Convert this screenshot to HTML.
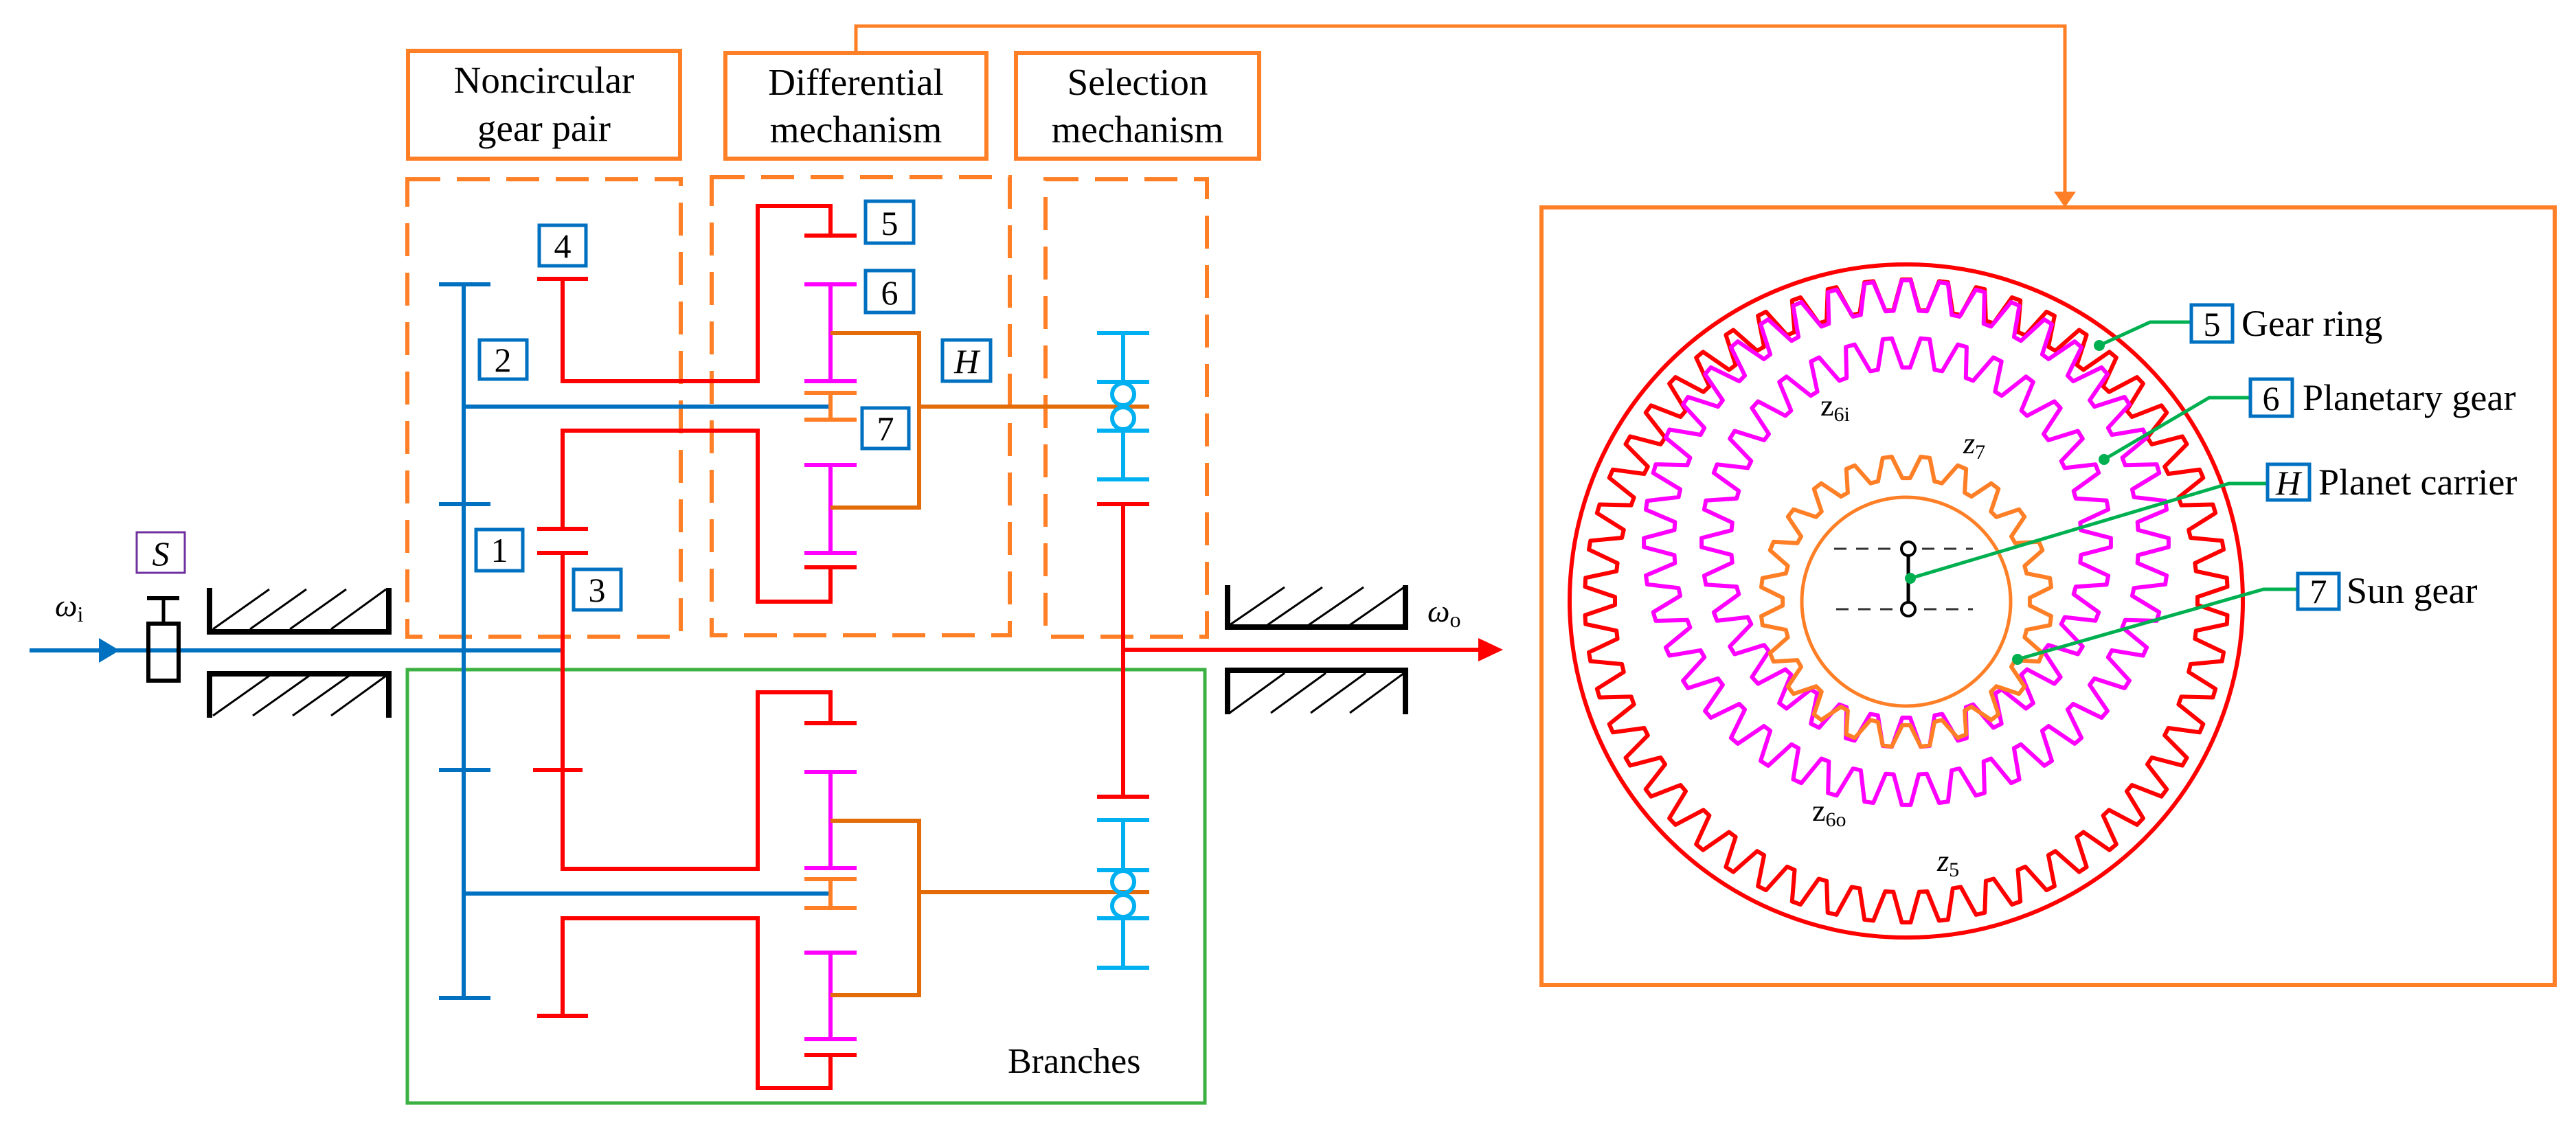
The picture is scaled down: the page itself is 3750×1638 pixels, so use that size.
<!DOCTYPE html>
<html><head><meta charset="utf-8">
<style>
html,body{margin:0;padding:0;background:#fff;}
svg{display:block;}
text{font-family:"Liberation Serif",serif;fill:#000;}
</style></head>
<body>
<svg id="s" width="3750" height="1638" viewBox="0 0 3750 1638" xmlns="http://www.w3.org/2000/svg">
<rect width="3750" height="1638" fill="#fff"/>
<g fill="none" stroke-linecap="butt">
<rect x="594" y="74" width="396" height="157" stroke="#FF7F27" stroke-width="6"/>
<rect x="1056" y="77" width="380" height="154" stroke="#FF7F27" stroke-width="6"/>
<rect x="1479" y="77" width="354" height="154" stroke="#FF7F27" stroke-width="6"/>
<polyline points="1246,77 1246,38 3006,38 3006,280" stroke="#FF7F27" stroke-width="5"/>
<g stroke="#FF7F27" stroke-width="6" stroke-dasharray="48,24">
<rect x="593" y="261" width="398" height="666"/>
<rect x="1036" y="258" width="434" height="667"/>
<rect x="1522" y="261" width="235" height="666"/>
</g>
<rect x="593" y="975" width="1161" height="631" stroke="#3CB043" stroke-width="5"/>
<rect x="2244" y="302" width="1475" height="1132" stroke="#FF7F27" stroke-width="6"/>
</g>
<polygon points="2990,279 3022,279 3006,302" fill="#FF7F27"/>

<g font-size="55" text-anchor="middle">
<text x="792" y="135">Noncircular</text>
<text x="792" y="205">gear pair</text>
<text x="1246" y="138">Differential</text>
<text x="1246" y="207">mechanism</text>
<text x="1656" y="138">Selection</text>
<text x="1656" y="207">mechanism</text>
</g>
<text x="1467" y="1562" font-size="52">Branches</text>

<g fill="none" stroke-width="6">
<line x1="43" y1="947" x2="819" y2="947" stroke="#0070C0"/>
<rect x="216" y="908" width="44" height="83" stroke="#000" stroke-width="6"/>
<line x1="238" y1="871" x2="238" y2="908" stroke="#000" stroke-width="5"/>
<line x1="214" y1="871" x2="261" y2="871" stroke="#000" stroke-width="6"/>
<rect x="199" y="775" width="70" height="59" stroke="#7030A0" stroke-width="3"/>
<polyline points="305,856 305,920 566,920 566,856" stroke="#000" stroke-width="8"/>
<polyline points="305,1045 305,981 566,981 566,1045" stroke="#000" stroke-width="8"/>
<polyline points="1787,852 1787,913 2046,913 2046,852" stroke="#000" stroke-width="8"/>
<polyline points="1787,1040 1787,976 2046,976 2046,1040" stroke="#000" stroke-width="8"/>
<g stroke="#000" stroke-width="3">
<line x1="310" y1="916" x2="392" y2="858"/><line x1="364" y1="916" x2="446" y2="858"/><line x1="422" y1="916" x2="504" y2="858"/><line x1="482" y1="916" x2="562" y2="858"/>
<line x1="310" y1="1042" x2="392" y2="984"/><line x1="368" y1="1042" x2="450" y2="984"/><line x1="426" y1="1042" x2="508" y2="984"/><line x1="482" y1="1042" x2="562" y2="984"/>
<line x1="1790" y1="910" x2="1870" y2="855"/><line x1="1845" y1="910" x2="1925" y2="855"/><line x1="1905" y1="910" x2="1985" y2="855"/><line x1="1965" y1="910" x2="2044" y2="855"/>
<line x1="1790" y1="1038" x2="1870" y2="980"/><line x1="1850" y1="1038" x2="1930" y2="980"/><line x1="1908" y1="1038" x2="1988" y2="980"/><line x1="1965" y1="1038" x2="2044" y2="980"/>
</g>
<line x1="1635" y1="946" x2="2155" y2="946" stroke="#FF0000"/>
</g>
<polygon points="144,929 174,947 144,965" fill="#0070C0"/>
<polygon points="2152,929 2188,946 2152,963" fill="#FF0000"/>
<text x="80" y="897" font-size="46" font-style="italic">ω<tspan font-size="32" font-style="normal" dy="8">i</tspan></text>
<text x="2078" y="905" font-size="46" font-style="italic">ω<tspan font-size="32" font-style="normal" dy="8">o</tspan></text>
<text x="234" y="823" font-size="50" font-style="italic" text-anchor="middle">S</text>

<g fill="none" stroke-width="6" stroke-linejoin="miter">
<g stroke="#0070C0">
<line x1="675" y1="414" x2="675" y2="1453"/>
<line x1="639" y1="414" x2="714" y2="414"/>
<line x1="639" y1="734" x2="714" y2="734"/>
<line x1="639" y1="1121" x2="714" y2="1121"/>
<line x1="639" y1="1453" x2="714" y2="1453"/>
<line x1="675" y1="592" x2="1208" y2="592"/>
<line x1="675" y1="1301" x2="1208" y2="1301"/>
</g>
<g stroke="#FF0000">
<polyline points="819,406 819,555 1103,555 1103,300 1209,300 1209,343"/>
<line x1="782" y1="406" x2="856" y2="406"/>
<line x1="1171" y1="343" x2="1247" y2="343"/>
<polyline points="819,770 819,627 1103,627 1103,876 1209,876 1209,826"/>
<line x1="1171" y1="826" x2="1247" y2="826"/>
<line x1="782" y1="770" x2="856" y2="770"/>
<line x1="782" y1="805" x2="856" y2="805"/>
<polyline points="819,805 819,1265 1103,1265 1103,1008 1209,1008 1209,1053"/>
<line x1="1171" y1="1053" x2="1247" y2="1053"/>
<line x1="776" y1="1121" x2="848" y2="1121"/>
<polyline points="819,1479 819,1337 1103,1337 1103,1584 1209,1584 1209,1536"/>
<line x1="782" y1="1479" x2="856" y2="1479"/>
<line x1="1171" y1="1536" x2="1247" y2="1536"/>
<line x1="1635" y1="734" x2="1635" y2="1160"/>
<line x1="1597" y1="734" x2="1673" y2="734"/>
<line x1="1597" y1="1160" x2="1673" y2="1160"/>
</g>
<g stroke="#FF00FF">
<line x1="1209" y1="414" x2="1209" y2="555"/><line x1="1171" y1="414" x2="1247" y2="414"/><line x1="1171" y1="555" x2="1247" y2="555"/>
<line x1="1209" y1="677" x2="1209" y2="805"/><line x1="1171" y1="677" x2="1247" y2="677"/><line x1="1171" y1="805" x2="1247" y2="805"/>
<line x1="1209" y1="1124" x2="1209" y2="1264"/><line x1="1171" y1="1124" x2="1247" y2="1124"/><line x1="1171" y1="1264" x2="1247" y2="1264"/>
<line x1="1209" y1="1387" x2="1209" y2="1513"/><line x1="1171" y1="1387" x2="1247" y2="1387"/><line x1="1171" y1="1513" x2="1247" y2="1513"/>
</g>
<g stroke="#FF7F27">
<line x1="1209" y1="572" x2="1209" y2="611"/><line x1="1171" y1="572" x2="1247" y2="572"/><line x1="1171" y1="611" x2="1247" y2="611"/>
<line x1="1209" y1="1280" x2="1209" y2="1322"/><line x1="1171" y1="1280" x2="1247" y2="1280"/><line x1="1171" y1="1322" x2="1247" y2="1322"/>
</g>
<g stroke="#E36C09">
<polyline points="1209,485 1338,485 1338,739 1209,739"/>
<line x1="1338" y1="592" x2="1673" y2="592"/>
<polyline points="1209,1195 1338,1195 1338,1449 1209,1449"/>
<line x1="1338" y1="1299" x2="1673" y2="1299"/>
</g>
<g stroke="#00B0F0">
<line x1="1635" y1="485" x2="1635" y2="556"/><line x1="1635" y1="627" x2="1635" y2="698"/>
<line x1="1597" y1="485" x2="1673" y2="485"/><line x1="1597" y1="556" x2="1673" y2="556"/><line x1="1597" y1="627" x2="1673" y2="627"/><line x1="1597" y1="698" x2="1673" y2="698"/>
<circle cx="1635" cy="574" r="16"/><circle cx="1635" cy="609" r="16"/>
<line x1="1635" y1="1194" x2="1635" y2="1267"/><line x1="1635" y1="1337" x2="1635" y2="1409"/>
<line x1="1597" y1="1194" x2="1673" y2="1194"/><line x1="1597" y1="1267" x2="1673" y2="1267"/><line x1="1597" y1="1337" x2="1673" y2="1337"/><line x1="1597" y1="1409" x2="1673" y2="1409"/>
<circle cx="1635" cy="1284" r="16"/><circle cx="1635" cy="1319" r="16"/>
</g>
</g>

<g fill="#fff" stroke="#0070C0" stroke-width="5">
<rect x="785" y="328" width="68" height="59"/>
<rect x="698" y="495" width="69" height="57"/>
<rect x="693" y="771" width="68" height="60"/>
<rect x="835" y="829" width="69" height="59"/>
<rect x="1260" y="293" width="70" height="61"/>
<rect x="1260" y="394" width="70" height="61"/>
<rect x="1255" y="594" width="68" height="59"/>
<rect x="1372" y="495" width="70" height="60"/>
</g>
<g font-size="50" text-anchor="middle">
<text x="819" y="375">4</text>
<text x="732" y="541">2</text>
<text x="727" y="818">1</text>
<text x="869" y="876">3</text>
<text x="1295" y="342">5</text>
<text x="1295" y="443">6</text>
<text x="1289" y="641">7</text>
<text x="1407" y="543" font-style="italic">H</text>
</g>

<g id="gears" fill="none" stroke-width="6" stroke-linejoin="round"></g>
<circle cx="2775" cy="875" r="490" fill="none" stroke="#FF0000" stroke-width="6"/>
<circle cx="2775" cy="876" r="152" fill="none" stroke="#FF7F27" stroke-width="5"/>
<g stroke="#333" stroke-width="3" stroke-dasharray="18,14">
<line x1="2670" y1="799" x2="2872" y2="799"/><line x1="2673" y1="887" x2="2872" y2="887"/>
</g>
<line x1="2778" y1="799" x2="2778" y2="887" stroke="#000" stroke-width="5"/>
<circle cx="2778" cy="799" r="10" fill="#fff" stroke="#000" stroke-width="4"/>
<circle cx="2778" cy="887" r="10" fill="#fff" stroke="#000" stroke-width="4"/>

<g fill="none" stroke="#00B050" stroke-width="5">
<polyline points="3056,503 3130,469 3190,469"/>
<polyline points="3063,669 3216,579 3276,579"/>
<polyline points="2781,842 3245,704 3301,704"/>
<polyline points="2937,960 3295,858 3345,858"/>
</g>
<g fill="#00B050">
<circle cx="3056" cy="503" r="8"/><circle cx="3063" cy="669" r="8"/><circle cx="2781" cy="842" r="8"/><circle cx="2937" cy="960" r="8"/>
</g>
<g fill="#fff" stroke="#0070C0" stroke-width="5">
<rect x="3190" y="444" width="60" height="54"/>
<rect x="3276" y="552" width="61" height="54"/>
<rect x="3301" y="676" width="61" height="52"/>
<rect x="3345" y="835" width="60" height="52"/>
</g>
<g font-size="50" text-anchor="middle">
<text x="3220" y="489">5</text>
<text x="3306" y="597">6</text>
<text x="3331" y="720" font-style="italic">H</text>
<text x="3375" y="878">7</text>
</g>
<g font-size="54">
<text x="3263" y="489">Gear ring</text>
<text x="3352" y="597">Planetary gear</text>
<text x="3375" y="720">Planet carrier</text>
<text x="3416" y="878">Sun gear</text>
</g>
<g font-size="44">
<text x="2650" y="605">z<tspan font-size="30" dy="8">6i</tspan></text>
<text x="2858" y="660" font-style="italic">z<tspan font-size="30" dy="8" font-style="normal">7</tspan></text>
<text x="2638" y="1195">z<tspan font-size="30" dy="8">6o</tspan></text>
<text x="2820" y="1268" font-style="italic">z<tspan font-size="30" dy="8" font-style="normal">5</tspan></text>
</g>
</svg>
<script>
(function(){
var g=document.getElementById('gears');
function gear(cx,cy,rA,rB,N,col){
  var p=2*Math.PI/N,d='';
  for(var i=0;i<N;i++){
    var a=-Math.PI/2+i*p;
    var pts=[[rA,a-0.12*p],[rA,a+0.12*p],[rB,a+0.38*p],[rB,a+0.62*p]];
    for(var j=0;j<4;j++){
      var x=cx+pts[j][0]*Math.cos(pts[j][1]),y=cy+pts[j][0]*Math.sin(pts[j][1]);
      d+=(i==0&&j==0?'M':'L')+x.toFixed(1)+','+y.toFixed(1);
    }
  }
  d+='Z';
  var e=document.createElementNS('http://www.w3.org/2000/svg','path');
  e.setAttribute('d',d);e.setAttribute('stroke',col);
  g.appendChild(e);
}
gear(2775,875,468,424,54,'#FF0000');
gear(2775,790,382,338,44,'#FF00FF');
gear(2775,790,255,298,34,'#FF00FF');
gear(2775,876,180,212,24,'#FF7F27');
})();
</script>
</body></html>
